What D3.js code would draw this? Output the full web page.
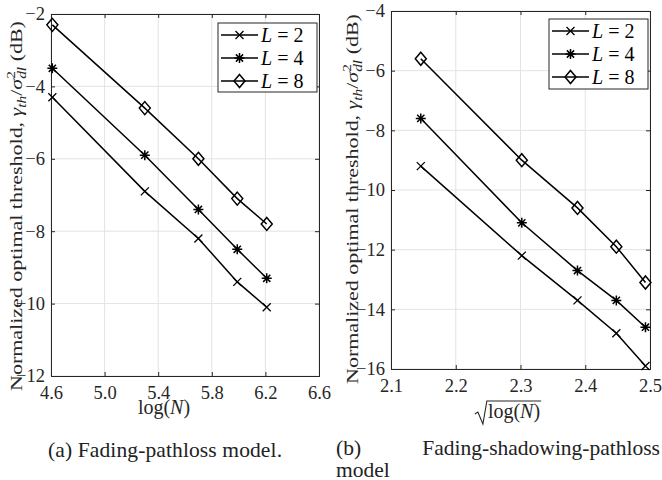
<!DOCTYPE html>
<html>
<head>
<meta charset="utf-8">
<script src="https://cdn.jsdelivr.net/npm/d3@7"></script>
<style>
  body { margin: 0; background: #fff; }
  svg text { font-family: "Liberation Serif", "Times New Roman", serif !important; }
</style>
</head>
<body>
<svg id="fig" width="662" height="480"></svg>
<script>
// x values (log N and sqrt(log N) for N = 100..500)
var logN = [4.61, 5.30, 5.70, 5.99, 6.21];
var sqrtLogN = [2.146, 2.302, 2.388, 2.448, 2.493];

// panel (a) fading-pathloss
var a_L2 = [-4.3, -6.9, -8.2, -9.4, -10.1];
var a_L4 = [-3.5, -5.9, -7.4, -8.5, -9.3];
var a_L8 = [-2.3, -4.6, -6.0, -7.1, -7.8];

// panel (b) fading-shadowing-pathloss
var b_L2 = [-9.2, -12.2, -13.7, -14.8, -15.9];
var b_L4 = [-7.6, -11.1, -12.7, -13.7, -14.6];
var b_L8 = [-5.6, -9.0, -10.6, -11.9, -13.1];

var legendLabels = ['2', '4', '8'];
var markers = ['x', 'star', 'diamond'];

var a_xticks = [4.6, 5.0, 5.4, 5.8, 6.2, 6.6];
var a_yticks = [-2, -4, -6, -8, -10, -12];
var b_xticks = [2.1, 2.2, 2.3, 2.4, 2.5];
var b_yticks = [-4, -6, -8, -10, -12, -14, -16];

var svg = d3.select('#fig');
var axisColor = '#262626';

function drawMarker(g, type, cx, cy) {
    if (type == 'x') {
        var s = 4;
        g.append('path')
            .attr('d', 'M' + (cx - s) + ',' + (cy - s) + 'L' + (cx + s) + ',' + (cy + s) +
                       'M' + (cx - s) + ',' + (cy + s) + 'L' + (cx + s) + ',' + (cy - s))
            .attr('stroke', '#000').attr('stroke-width', 1.3).attr('fill', 'none');
    } else if (type == 'star') {
        var s = 5, d = 3.6;
        g.append('path')
            .attr('d', 'M' + (cx - d) + ',' + (cy - d) + 'L' + (cx + d) + ',' + (cy + d) +
                       'M' + (cx - d) + ',' + (cy + d) + 'L' + (cx + d) + ',' + (cy - d) +
                       'M' + cx + ',' + (cy - s) + 'L' + cx + ',' + (cy + s) +
                       'M' + (cx - s) + ',' + cy + 'L' + (cx + s) + ',' + cy)
            .attr('stroke', '#000').attr('stroke-width', 1.5).attr('fill', 'none');
    } else {
        var w = 5.5, h = 6.5;
        g.append('path')
            .attr('d', 'M' + cx + ',' + (cy - h) + 'L' + (cx + w) + ',' + cy + 'L' + cx + ',' + (cy + h) +
                       'L' + (cx - w) + ',' + cy + 'Z')
            .attr('stroke', '#000').attr('stroke-width', 1.5).attr('fill', 'none');
    }
}

// rotated y label with the gamma_th / sigma^2_dl math part
// (glyphs look a bit squeezed across in the figure, hence the x scale)
function yLabel(g, px, py, fs) {
    var sub = fs * 0.7;
    var yl = g.append('text')
        .attr('transform', 'translate(' + px + ',' + py + ') scale(0.8,1) rotate(-90)')
        .attr('text-anchor', 'middle').style('font-size', fs + 'px').attr('fill', axisColor);
    yl.append('tspan').text('Normalized optimal threshold, ');
    yl.append('tspan').style('font-style', 'italic').text('γ');
    yl.append('tspan').style('font-style', 'italic').style('font-size', sub + 'px')
        .attr('dy', fs * 0.22).text('th');
    yl.append('tspan').attr('dy', -fs * 0.22).text('/');
    yl.append('tspan').style('font-style', 'italic').text('σ');
    yl.append('tspan').style('font-size', sub + 'px').attr('dy', -fs * 0.38).text('2');
    yl.append('tspan').style('font-style', 'italic').style('font-size', sub + 'px')
        .attr('dx', -sub * 0.5).attr('dy', fs * 0.6).text('dl');
    yl.append('tspan').attr('dy', -fs * 0.22).text(' (dB)');
    return yl;
}

function panel(opt) {
    var x = d3.scaleLinear().domain(opt.xdom).range(opt.xr);
    var y = d3.scaleLinear().domain(opt.ydom).range(opt.yr);
    var g = svg.append('g');

    // grid
    g.selectAll('.gx').data(opt.xticks).enter().append('line')
        .attr('x1', d => x(d)).attr('x2', d => x(d))
        .attr('y1', opt.yr[0]).attr('y2', opt.yr[1])
        .attr('stroke', '#e3e3e3').attr('stroke-width', 1);
    g.selectAll('.gy').data(opt.yticks).enter().append('line')
        .attr('y1', d => y(d)).attr('y2', d => y(d))
        .attr('x1', opt.xr[0]).attr('x2', opt.xr[1])
        .attr('stroke', '#e3e3e3').attr('stroke-width', 1);

    // axes (MATLAB style: inward ticks, box on)
    var bottom = d3.axisBottom(x).tickValues(opt.xticks).tickSize(-4).tickPadding(10)
        .tickFormat(opt.xfmt);
    var left = d3.axisLeft(y).tickValues(opt.yticks).tickSize(-4).tickPadding(6)
        .tickFormat(d3.format('d'));
    var top = d3.axisTop(x).tickValues(opt.xticks).tickSize(-4).tickFormat('');
    var right = d3.axisRight(y).tickValues(opt.yticks).tickSize(-4).tickFormat('');

    [[bottom, 'translate(0,' + opt.yr[0] + ')'], [left, 'translate(' + opt.xr[0] + ',0)'],
     [top, 'translate(0,' + opt.yr[1] + ')'], [right, 'translate(' + opt.xr[1] + ',0)']]
    .forEach(function (p) {
        var ax = g.append('g').attr('transform', p[1]).call(p[0]);
        ax.attr('font-family', null).attr('font-size', null);
        ax.select('.domain').attr('stroke', axisColor);
        ax.selectAll('.tick line').attr('stroke', axisColor);
        ax.selectAll('.tick text').attr('fill', axisColor).style('font-size', '18.5px');
    });

    // series
    var line = d3.line().x(d => x(d[0])).y(d => y(d[1]));
    opt.series.forEach(function (s, i) {
        var pts = opt.xs.map((v, j) => [v, s[j]]);
        g.append('path').attr('d', line(pts))
            .attr('fill', 'none').attr('stroke', '#000').attr('stroke-width', 1.5);
        pts.forEach(p => drawMarker(g, markers[i], x(p[0]), y(p[1])));
    });

    // legend
    var lg = opt.legend;
    g.append('rect').attr('x', lg.x).attr('y', lg.y).attr('width', lg.w).attr('height', lg.h)
        .attr('fill', '#fff').attr('stroke', axisColor).attr('stroke-width', 1);
    legendLabels.forEach(function (lab, i) {
        var ry = lg.y + 12 + i * 23;
        g.append('line').attr('x1', lg.x + 3).attr('x2', lg.x + 40)
            .attr('y1', ry).attr('y2', ry).attr('stroke', '#000').attr('stroke-width', 1.5);
        drawMarker(g, markers[i], lg.x + 21.5, ry);
        var t = g.append('text').attr('x', lg.x + 43).attr('y', ry + 7)
            .style('font-size', '20px').attr('fill', '#000');
        t.append('tspan').style('font-style', 'italic').text('L');
        t.append('tspan').text(' = ' + lab);
    });

    return { x: x, y: y, g: g };
}

var pa = panel({
    xdom: [4.6, 6.6], xr: [51, 319], ydom: [-12, -2], yr: [376, 14],
    xticks: a_xticks, yticks: a_yticks, xfmt: d3.format('.1f'),
    xs: logN, series: [a_L2, a_L4, a_L8],
    legend: { x: 218, y: 23, w: 99, h: 69 }
});

var pb = panel({
    xdom: [2.1, 2.5], xr: [391, 650], ydom: [-16, -4], yr: [369, 11],
    xticks: b_xticks, yticks: b_yticks, xfmt: d3.format('.1f'),
    xs: sqrtLogN, series: [b_L2, b_L4, b_L8],
    legend: { x: 549, y: 19, w: 99, h: 70 }
});

// size the y label so it spans the same length as in the figure (~370px)
var probe = yLabel(svg, -500, -500, 20);
var labFs = 20 * 370 / probe.node().getBBox().width;
probe.remove();
yLabel(pa.g, 22, 206, labFs);
yLabel(pb.g, 358, 199, labFs);

// x labels
var xa = svg.append('text').attr('x', 164).attr('y', 414).attr('text-anchor', 'middle')
    .style('font-size', '20px').attr('fill', axisColor);
xa.append('tspan').text('log(');
xa.append('tspan').style('font-style', 'italic').text('N');
xa.append('tspan').text(')');

var xb = svg.append('g');
var xbt = xb.append('text').attr('x', 514).attr('y', 418).attr('text-anchor', 'middle')
    .style('font-size', '20px').attr('fill', axisColor);
xbt.append('tspan').text('log(');
xbt.append('tspan').style('font-style', 'italic').text('N');
xbt.append('tspan').text(')');
var bb = xbt.node().getBBox();
xb.append('path')
    .attr('d', 'M' + (bb.x - 13) + ',' + (bb.y + 14) + 'L' + (bb.x - 10) + ',' + (bb.y + 12) +
               'L' + (bb.x - 5) + ',' + (bb.y + bb.height + 1) + 'L' + (bb.x - 1) + ',' + (bb.y + 1) +
               'L' + (bb.x + bb.width + 1) + ',' + (bb.y + 1))
    .attr('fill', 'none').attr('stroke', axisColor).attr('stroke-width', 1.1);

// captions
function caption(txt, x, y, w, anchor) {
    var t = svg.append('text').attr('x', x).attr('y', y).attr('text-anchor', anchor || 'start')
        .style('font-size', '21.5px').attr('fill', '#222').text(txt);
    if (w) t.attr('textLength', w).attr('lengthAdjust', 'spacing');
}
caption('(a)  Fading-pathloss model.', 48, 457, 234);
caption('(b)', 336, 455);
caption('Fading-shadowing-pathloss', 660, 455, null, 'end');
caption('model', 336, 477);
</script>
</body>
</html>
